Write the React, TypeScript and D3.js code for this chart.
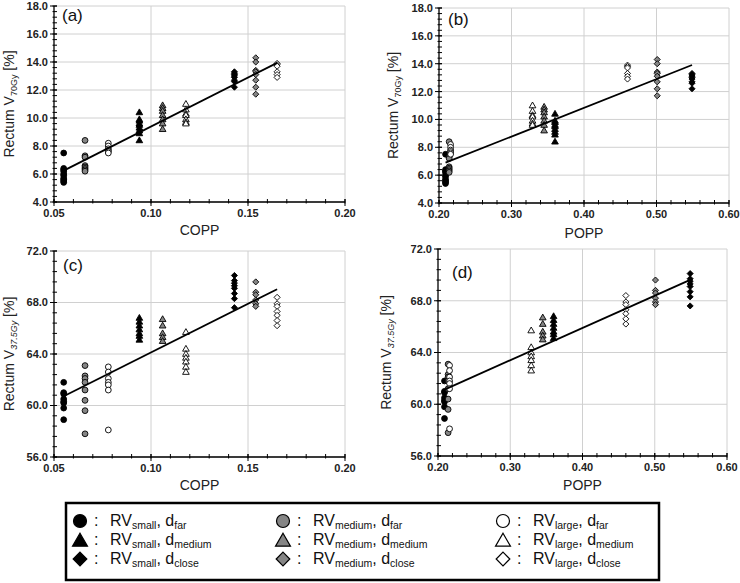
import * as d3 from "d3";

// group order: [far: small, medium, large], [medium dist: ...], [close: ...]
const coppValues = [0.055, 0.066, 0.078, 0.094, 0.106, 0.118, 0.143, 0.154, 0.165];
const poppValues = [0.209, 0.214, 0.216, 0.36, 0.345, 0.329, 0.549, 0.501, 0.46];

const v70SmallFar = [7.5, 6.4, 6.3, 6.2, 6.0, 5.9, 5.7, 5.6, 5.5, 5.4];
const v70MediumFar = [8.4, 7.3, 7.2, 6.6, 6.5, 6.4, 6.3, 6.2];
const v70LargeFar = [8.2, 8.0, 7.8, 7.7, 7.6, 7.5];
const v70SmallMed = [10.4, 9.9, 9.8, 9.6, 9.5, 9.3, 9.1, 8.9, 8.4];
const v70MediumMed = [10.9, 10.7, 10.5, 10.2, 9.9, 9.6, 9.2];
const v70LargeMed = [11.0, 10.6, 10.3, 10.2, 9.9, 9.7, 9.6];
const v70SmallClose = [13.3, 13.2, 13.1, 13.0, 12.9, 12.7, 12.6, 12.2];
const v70MediumClose = [14.3, 14.0, 13.4, 13.3, 13.1, 12.7, 12.2, 11.7];
const v70LargeClose = [13.9, 13.8, 13.7, 13.3, 13.1, 12.9];

const v37SmallFar = [61.8, 61.0, 60.9, 60.5, 60.3, 60.2, 59.8, 58.9];
const v37MediumFar = [63.1, 62.3, 62.1, 61.8, 61.2, 60.4, 59.6, 57.8];
const v37LargeFar = [63.0, 62.6, 62.1, 61.8, 61.6, 61.2, 58.1];
const v37SmallMed = [66.8, 66.5, 66.2, 65.9, 65.6, 65.4, 65.1];
const v37MediumMed = [66.7, 66.2, 65.6, 65.3, 65.0];
const v37LargeMed = [65.7, 64.4, 64.0, 63.7, 63.4, 63.0, 62.6];
const v37SmallClose = [70.1, 69.7, 69.5, 69.3, 69.1, 68.7, 68.3, 67.6];
const v37MediumClose = [69.6, 68.8, 68.6, 68.2, 67.9, 67.7];
const v37LargeClose = [68.4, 67.9, 67.7, 67.3, 67.0, 66.6, 66.2];

const v70Groups = [v70SmallFar, v70MediumFar, v70LargeFar, v70SmallMed, v70MediumMed, v70LargeMed, v70SmallClose, v70MediumClose, v70LargeClose];
const v37Groups = [v37SmallFar, v37MediumFar, v37LargeFar, v37SmallMed, v37MediumMed, v37LargeMed, v37SmallClose, v37MediumClose, v37LargeClose];

const sizeNames = ["small", "medium", "large"];
const distNames = ["far", "medium", "close"];
const sizeFills = ["#000000", "#858585", "#ffffff"];
const distShapes = ["circle", "triangle", "diamond"];

const FONT = "'Liberation Sans', Arial, sans-serif";

function markerPath(shape: string, s: number) {
  if (shape === "circle") {
    return `M${-s},0a${s},${s} 0 1,0 ${2 * s},0a${s},${s} 0 1,0 ${-2 * s},0Z`;
  }
  if (shape === "triangle") {
    const w = s * 2.3;
    const h = w * 0.87;
    return `M0,${-h * 0.6}L${w / 2},${h * 0.4}L${-w / 2},${h * 0.4}Z`;
  }
  const d = s * 1.05;
  return `M0,${-d}L${d},0L0,${d}L${-d},0Z`;
}

// least squares trendline, like the Excel one
function linreg(xs: number[], ys: number[]) {
  const mx = d3.mean(xs)!;
  const my = d3.mean(ys)!;
  let sxy = 0, sxx = 0;
  xs.forEach((x, i) => { sxy += (x - mx) * (ys[i] - my); sxx += (x - mx) * (x - mx); });
  const slope = sxy / sxx;
  return { slope, intercept: my - slope * mx };
}

interface PanelProps {
  left: number; right: number; top: number; bottom: number;
  xValues: number[]; groups: number[][];
  xDomain: [number, number]; xStep: number; xMinorStep: number; xFmt: string;
  yDomain: [number, number]; yStep: number; yMinorStep: number;
  label: string; xTitle: string; sub: string; subItalic: boolean;
  yTitleX: number; xTitleY: number; labelX: number; labelY: number;
}

function range(a: number, b: number, step: number) {
  const n = Math.round((b - a) / step);
  return d3.range(n + 1).map(i => a + i * step);
}

function Panel(p: PanelProps) {
  const x = d3.scaleLinear().domain(p.xDomain).range([p.left, p.right]);
  const y = d3.scaleLinear().domain(p.yDomain).range([p.bottom, p.top]);
  const xMajor = range(p.xDomain[0], p.xDomain[1], p.xStep);
  const xMinor = range(p.xDomain[0], p.xDomain[1], p.xMinorStep);
  const yMajor = range(p.yDomain[0], p.yDomain[1], p.yStep);
  const yMinor = range(p.yDomain[0], p.yDomain[1], p.yMinorStep);

  const allX: number[] = [];
  const allY: number[] = [];
  p.groups.forEach((vals, g) => vals.forEach(v => { allX.push(p.xValues[g]); allY.push(v); }));
  const fit = linreg(allX, allY);
  const [x0, x1] = d3.extent(allX) as [number, number];

  const fmtX = d3.format(p.xFmt);
  const fmtY = d3.format(".1f");
  const midY = (p.top + p.bottom) / 2;

  return (
    <g>
      {yMajor.map(v => (
        <line key={"gy" + v} x1={p.left} x2={p.right} y1={y(v)} y2={y(v)} stroke="#d0d0d0" strokeWidth={1} />
      ))}
      {xMajor.slice(1).map(v => (
        <line key={"gx" + v} x1={x(v)} x2={x(v)} y1={p.top} y2={p.bottom} stroke="#d0d0d0" strokeWidth={1} />
      ))}
      <line x1={p.left} x2={p.left} y1={p.top} y2={p.bottom} stroke="#000" strokeWidth={1.3} />
      <line x1={p.left} x2={p.right} y1={p.bottom} y2={p.bottom} stroke="#000" strokeWidth={1.3} />
      {yMinor.map(v => (
        <line key={"ym" + v} x1={p.left - 1.5} x2={p.left + 3} y1={y(v)} y2={y(v)} stroke="#000" strokeWidth={1} />
      ))}
      {yMajor.map(v => (
        <line key={"yM" + v} x1={p.left - 4} x2={p.left + 3} y1={y(v)} y2={y(v)} stroke="#000" strokeWidth={1} />
      ))}
      {xMinor.map(v => (
        <line key={"xm" + v} x1={x(v)} x2={x(v)} y1={p.bottom - 3} y2={p.bottom + 1.5} stroke="#000" strokeWidth={1} />
      ))}
      {xMajor.map(v => (
        <line key={"xM" + v} x1={x(v)} x2={x(v)} y1={p.bottom - 3} y2={p.bottom + 4} stroke="#000" strokeWidth={1} />
      ))}
      {yMajor.map(v => (
        <text key={"yl" + v} x={p.left - 6} y={y(v)} dy="0.36em" textAnchor="end" fontSize={11} fontWeight="bold" fontFamily={FONT} fill="#222">{fmtY(v)}</text>
      ))}
      {xMajor.map(v => (
        <text key={"xl" + v} x={x(v)} y={p.bottom + 15} textAnchor="middle" fontSize={11} fontWeight="bold" fontFamily={FONT} fill="#222">{fmtX(v)}</text>
      ))}
      <text x={(p.left + p.right) / 2} y={p.xTitleY} textAnchor="middle" fontSize={14} fontFamily={FONT} fill="#222">{p.xTitle}</text>
      <text transform={`translate(${p.yTitleX},${midY}) rotate(-90)`} textAnchor="middle" fontSize={14} fontFamily={FONT} fill="#222">
        Rectum V<tspan fontSize={9} dy={3} fontStyle={p.subItalic ? "italic" : "normal"}>{p.sub}</tspan><tspan dy={-3}> [%]</tspan>
      </text>
      <text x={p.labelX} y={p.labelY} fontSize={17} fontFamily={FONT} fill="#111">{p.label}</text>
      {p.groups.map((vals, g) => (
        <g key={"s" + g}>
          {vals.map((v, i) => (
            <path key={i} d={markerPath(distShapes[Math.floor(g / 3)], 2.9)} transform={`translate(${x(p.xValues[g])},${y(v)})`}
              fill={sizeFills[g % 3]} stroke="#000" strokeWidth={0.9} />
          ))}
        </g>
      ))}
      <line x1={x(x0)} x2={x(x1)} y1={y(fit.intercept + fit.slope * x0)} y2={y(fit.intercept + fit.slope * x1)} stroke="#000" strokeWidth={1.8} />
    </g>
  );
}

const legendColX = [80, 283, 503];
const legendRowY = [521, 540, 559];

function Legend() {
  return (
    <g>
      <rect x={66} y={503} width={593} height={77} fill="#fff" stroke="#000" strokeWidth={2.5} />
      {distNames.map((dn, r) => sizeNames.map((sn, c) => (
        <g key={r + "-" + c}>
          <path d={markerPath(distShapes[r], 6.5)} transform={`translate(${legendColX[c]},${legendRowY[r] + (r === 1 ? 1 : 0)})`} fill={sizeFills[c]} stroke="#000" strokeWidth={1.2} />
          <text x={legendColX[c] + 14} y={legendRowY[r] + 5} fontSize={16} fontFamily={FONT} fill="#111">:</text>
          <text x={legendColX[c] + 30} y={legendRowY[r] + 5} fontSize={16} fontFamily={FONT} fill="#111">
            RV<tspan fontSize={10.5} dy={3}>{sn}</tspan><tspan dy={-3}>, d</tspan><tspan fontSize={10.5} dy={3}>{dn}</tspan>
          </text>
        </g>
      )))}
    </g>
  );
}

export default function App() {
  return (
    <svg width={740} height={583} style={{ position: "absolute", left: 0, top: 0, background: "#fff" }}>
      <Panel left={54} right={345} top={6} bottom={202} xValues={coppValues} groups={v70Groups}
        xDomain={[0.05, 0.2]} xStep={0.05} xMinorStep={0.01} xFmt=".2f"
        yDomain={[4, 18]} yStep={2} yMinorStep={0.4}
        label="(a)" xTitle="COPP" sub="70Gy" subItalic={false}
        yTitleX={14} xTitleY={235} labelX={62} labelY={21} />
      <Panel left={439} right={729} top={8} bottom={203} xValues={poppValues} groups={v70Groups}
        xDomain={[0.2, 0.6]} xStep={0.1} xMinorStep={0.02} xFmt=".2f"
        yDomain={[4, 18]} yStep={2} yMinorStep={0.4}
        label="(b)" xTitle="POPP" sub="70Gy" subItalic={false}
        yTitleX={398} xTitleY={238} labelX={448} labelY={25} />
      <Panel left={54} right={345} top={251} bottom={457} xValues={coppValues} groups={v37Groups}
        xDomain={[0.05, 0.2]} xStep={0.05} xMinorStep={0.01} xFmt=".2f"
        yDomain={[56, 72]} yStep={4} yMinorStep={0.8}
        label="(c)" xTitle="COPP" sub="37.5Gy" subItalic={true}
        yTitleX={14} xTitleY={490} labelX={63} labelY={271} />
      <Panel left={438} right={727} top={249} bottom={456} xValues={poppValues} groups={v37Groups}
        xDomain={[0.2, 0.6]} xStep={0.1} xMinorStep={0.02} xFmt=".2f"
        yDomain={[56, 72]} yStep={4} yMinorStep={0.8}
        label="(d)" xTitle="POPP" sub="37.5Gy" subItalic={true}
        yTitleX={391} xTitleY={490} labelX={452} labelY={278} />
      <Legend />
    </svg>
  );
}
